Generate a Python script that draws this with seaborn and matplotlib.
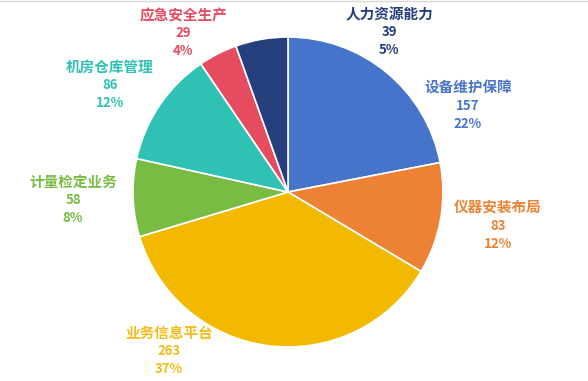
import matplotlib

matplotlib.use("Agg")
import matplotlib.pyplot as plt
import seaborn as sns
from matplotlib.lines import Line2D

# --------------------------------------------------------------------------- #
# Data (clockwise from 12 o'clock)
# --------------------------------------------------------------------------- #
categories = ["设备维护保障", "仪器安装布局", "业务信息平台", "计量检定业务",
              "机房仓库管理", "应急安全生产", "人力资源能力"]
counts = [157, 83, 263, 58, 86, 29, 39]

colors = ["#4674CB", "#EE8234", "#F2B900", "#78BC43",
          "#2FC1B3", "#E64C5F", "#243F7C"]
text_colors = ["#4A74CC", "#EE8234", "#F2BD1A", "#78BC43",
               "#2FC1B3", "#E64C5F", "#243F7C"]
# label centre (x, y from top), in pixels of the 588x381 canvas
label_pos = [(468, 88), (498, 208), (169, 333), (73, 182),
             (110, 67), (183, 15), (389, 14)]

sns.set_theme(style="white")
plt.rcParams["font.family"] = ["Noto Sans CJK SC", "DejaVu Sans"]

W, H = 588, 381
fig = plt.figure(figsize=(W / 100, H / 100), dpi=100)
ax = fig.add_axes([0, 0, 1, 1])

ax.pie(counts, colors=colors, startangle=90, counterclock=False,
       center=(288, H - 192), radius=155,
       wedgeprops={"edgecolor": "white", "linewidth": 1.2})

# pie() resets the limits, so fix the pixel canvas afterwards
ax.set_xlim(0, W)
ax.set_ylim(0, H)
ax.set_aspect("equal")
ax.axis("off")

total = sum(counts)
for name, n, (x, y), c in zip(categories, counts, label_pos, text_colors):
    ax.text(x, H - y, name, ha="center", va="center", color=c,
            fontsize=10.5, fontweight="bold")
    ax.text(x, H - y - 18, f"{n}", ha="center", va="center", color=c,
            fontsize=9.5, fontweight="bold")
    ax.text(x, H - y - 36, f"{n / total:.0%}", ha="center", va="center",
            color=c, fontsize=9.5, fontweight="bold")

# thin grey rule along the top edge
fig.add_artist(Line2D([0, 1], [0.998, 0.998], color="#D9D9D9", lw=1,
                      transform=fig.transFigure))

fig.savefig("out.png", dpi=100, facecolor="white")
